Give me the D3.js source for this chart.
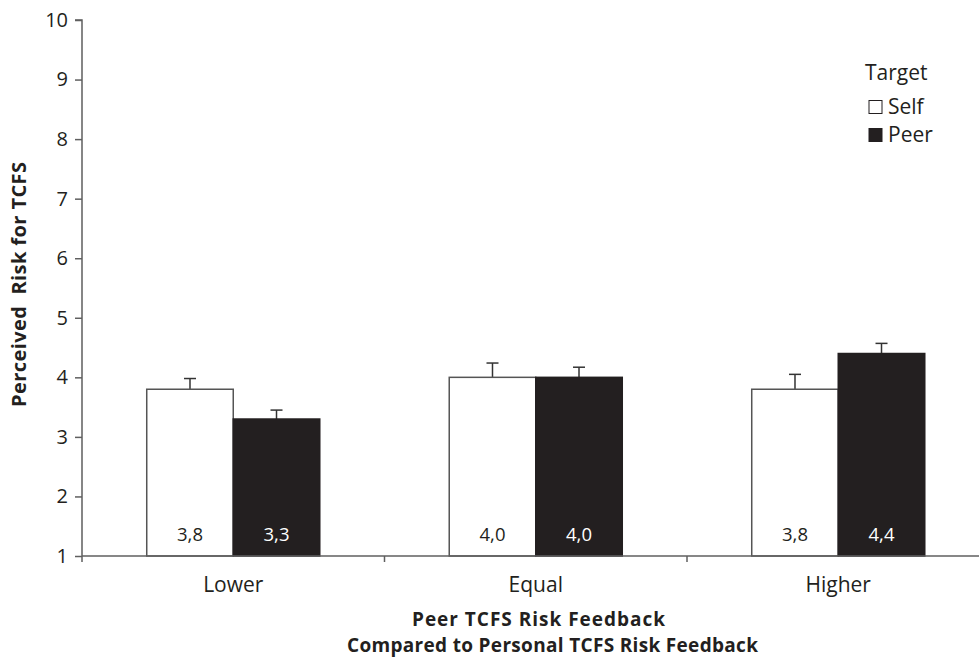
<!DOCTYPE html>
<html><head><meta charset="utf-8">
<script src="https://cdn.jsdelivr.net/npm/d3@7"></script>
<style>body{margin:0;background:#fff}svg{display:block}text{font-family:"Open Sans",sans-serif;fill:#231f20;white-space:pre}</style>
</head><body>
<script>
const categories = ["Lower", "Equal", "Higher"];
const seriesNames = ["Self", "Peer"];
const selfValues = [3.8, 4.0, 3.8];
const peerValues = [3.3, 4.0, 4.4];
const selfErrors = [0.18, 0.24, 0.25];
const peerErrors = [0.15, 0.17, 0.17];
const selfLabels = ["3,8", "4,0", "3,8"];
const peerLabels = ["3,3", "4,0", "4,4"];
const yTicks = [1,2,3,4,5,6,7,8,9,10];

const W = 979, H = 661;
const svg = d3.select("body").append("svg").attr("width", W).attr("height", H);
const axisColor = "#5f5f5f";
const x0 = d3.scaleBand().domain(categories).range([82, 989.5]).padding(0);
const x1 = d3.scaleBand().domain(seriesNames).range([x0.step()*0.214, x0.step()*0.786]).padding(0);
const y = d3.scaleLinear().domain([1, 10]).range([556, 20]);

const data = categories.map((c, i) => ({cat: c, vals: [
  {s: "Self", v: selfValues[i], e: selfErrors[i], lab: selfLabels[i]},
  {s: "Peer", v: peerValues[i], e: peerErrors[i], lab: peerLabels[i]}]}));

const g = svg.append("g");
const groups = g.selectAll("g.grp").data(data).join("g").attr("transform", d => `translate(${x0(d.cat)},0)`);
groups.selectAll("g.err").data(d => d.vals).join("g").each(function(d){
  const cx = x1(d.s) + x1.bandwidth()/2;
  const s = d3.select(this);
  s.append("line").attr("x1", cx).attr("x2", cx).attr("y1", y(d.v)).attr("y2", y(d.v + d.e)).attr("stroke", "#333").attr("stroke-width", 1.5);
  s.append("line").attr("x1", cx-6).attr("x2", cx+6).attr("y1", y(d.v + d.e)).attr("y2", y(d.v + d.e)).attr("stroke", "#333").attr("stroke-width", 1.5);
});
groups.selectAll("rect").data(d => d.vals).join("rect")
  .attr("x", d => x1(d.s)).attr("width", x1.bandwidth())
  .attr("y", d => y(d.v)).attr("height", d => y(1) - y(d.v))
  .attr("fill", d => d.s === "Self" ? "#fff" : "#231f20")
  .attr("stroke", d => d.s === "Self" ? "#555" : "#231f20").attr("stroke-width", 1.5);
groups.selectAll("text.val").data(d => d.vals).join("text").attr("class","val")
  .attr("x", d => x1(d.s) + x1.bandwidth()/2).attr("y", 541)
  .attr("text-anchor", "middle").style("font-size", "18.5px")
  .style("fill", d => d.s === "Self" ? "#231f20" : "#fff").text(d => d.lab);

// y axis
const ya = svg.append("g").attr("transform", "translate(82,0)")
  .call(d3.axisLeft(y).tickValues(yTicks).tickSize(7).tickPadding(7).tickFormat(d3.format("d")));
ya.select(".domain").attr("stroke", axisColor).attr("stroke-width", 1.5).attr("d", `M-7,${y(10)}H0V${y(1)}`);
ya.selectAll(".tick line").attr("stroke", axisColor).attr("stroke-width", 1.5);
ya.selectAll(".tick text").style("font-size", "20px").style("font-family", '"Open Sans",sans-serif').attr("fill", "#231f20");

// x axis
const xa = svg.append("g").attr("transform", `translate(0,${y(1)})`);
xa.append("line").attr("x1", 82).attr("x2", 989.5).attr("y1", 0).attr("y2", 0).attr("stroke", axisColor).attr("stroke-width", 1.5);
xa.selectAll("line.tk").data(categories).join("line").attr("class","tk")
  .attr("x1", d => x0(d)).attr("x2", d => x0(d)).attr("y1", 0).attr("y2", 6).attr("stroke", axisColor).attr("stroke-width", 1.5);
xa.selectAll("text").data(categories).join("text")
  .attr("x", d => x0(d) + x0.bandwidth()/2).attr("y", 36).attr("text-anchor", "middle").style("font-size", "21px").text(d => d);

// titles
svg.append("text").attr("x", 538.5).attr("y", 625.5).attr("text-anchor", "middle").style("font-size", "19px").style("font-weight", "bold")
  .attr("textLength", 253).attr("lengthAdjust", "spacing").text("Peer TCFS Risk Feedback");
svg.append("text").attr("x", 552.5).attr("y", 652).attr("text-anchor", "middle").style("font-size", "19px").style("font-weight", "bold")
  .attr("textLength", 411).attr("lengthAdjust", "spacing").text("Compared to Personal TCFS Risk Feedback");
svg.append("text").attr("transform", "translate(26,284.5) rotate(-90)").attr("text-anchor", "middle").style("font-size", "20px").style("font-weight", "bold")
  .attr("textLength", 245).attr("lengthAdjust", "spacing").text("Perceived  Risk for TCFS");

// legend
const lg = svg.append("g");
lg.append("text").attr("x", 865).attr("y", 80).style("font-size", "21px").text("Target");
const items = lg.selectAll("g.it").data(seriesNames).join("g").attr("transform", (d,i) => `translate(869,${100.5 + i*28})`);
items.append("rect").attr("width", 13).attr("height", 13).attr("fill", d => d === "Self" ? "#fff" : "#231f20").attr("stroke", "#231f20").attr("stroke-width", 1);
items.append("text").attr("x", 19).attr("y", 13.5).style("font-size", "21px").text(d => d);
</script>
</body></html>
